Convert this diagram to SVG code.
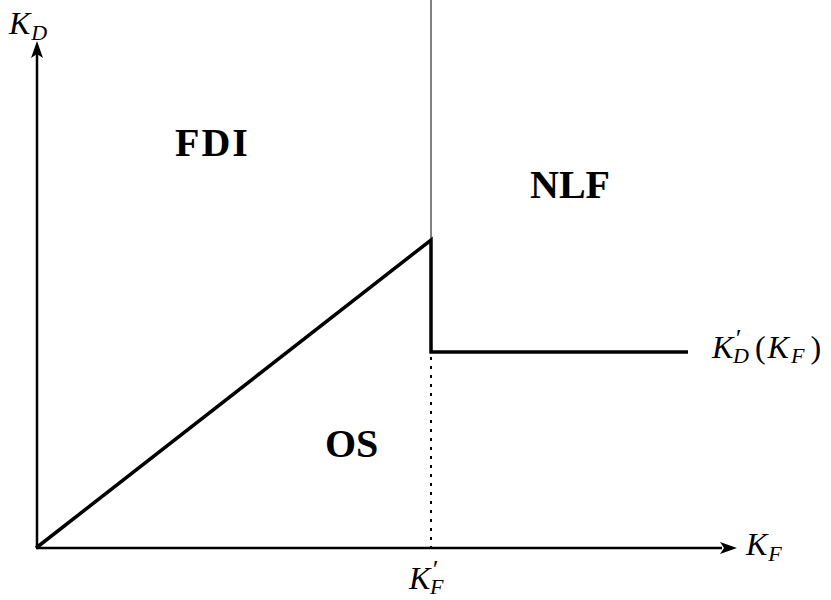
<svg xmlns="http://www.w3.org/2000/svg" width="831" height="600" viewBox="0 0 831 600">
<style>
.ax{stroke:#000;stroke-width:2.5;fill:none}
.thick{stroke:#000;stroke-width:3.5;fill:none;stroke-linejoin:miter}
.thin{stroke:#000;stroke-width:1;fill:none}
.dot{stroke:#000;stroke-width:2;fill:none;stroke-dasharray:3 6}
.m{font-family:"Liberation Serif",serif;font-style:italic;fill:#000;font-size:32px}
.s{font-size:22px}
.p{font-size:26px}
.b{font-family:"Liberation Serif",serif;font-weight:bold;fill:#000;font-size:40px}
</style>
<g id="connectors">
<line class="ax" x1="37" y1="548" x2="37" y2="52"/>
<path d="M31,58 L37,41 L43,58 L37,54 Z" fill="#000"/>
<line class="ax" x1="36" y1="548" x2="722" y2="548"/>
<path d="M720,542 L737,548 L720,554 L724,548 Z" fill="#000"/>
<line class="thin" x1="431" y1="0" x2="431" y2="240"/>
<polyline class="thick" points="36,548 431,240 431,352 688,352"/>
<line class="dot" x1="431" y1="357" x2="431" y2="548"/>
</g>
<g id="labels">
<text class="m" x="9" y="34">K<tspan class="s" dx="1" dy="6">D</tspan></text>
<text class="b" x="175" y="156" letter-spacing="2">FDI</text>
<text class="b" x="530" y="198">NLF</text>
<text class="b" x="325" y="457">OS</text>
<text class="m" x="746" y="555">K<tspan class="s" dx="1" dy="6">F</tspan></text>
<text class="m" x="409" y="589">K<tspan class="p" dx="1" dy="-11">′</tspan><tspan class="s" dx="-7" dy="16">F</tspan></text>
<text class="m" x="712" y="358">K<tspan class="p" dx="1" dy="-11">′</tspan><tspan class="s" dx="-7" dy="16">D</tspan><tspan dx="6" dy="-5" font-style="normal">(</tspan><tspan dx="2">K</tspan><tspan class="s" dx="2" dy="5">F</tspan><tspan dx="6" dy="-5" font-style="normal">)</tspan></text>
</g>
</svg>
